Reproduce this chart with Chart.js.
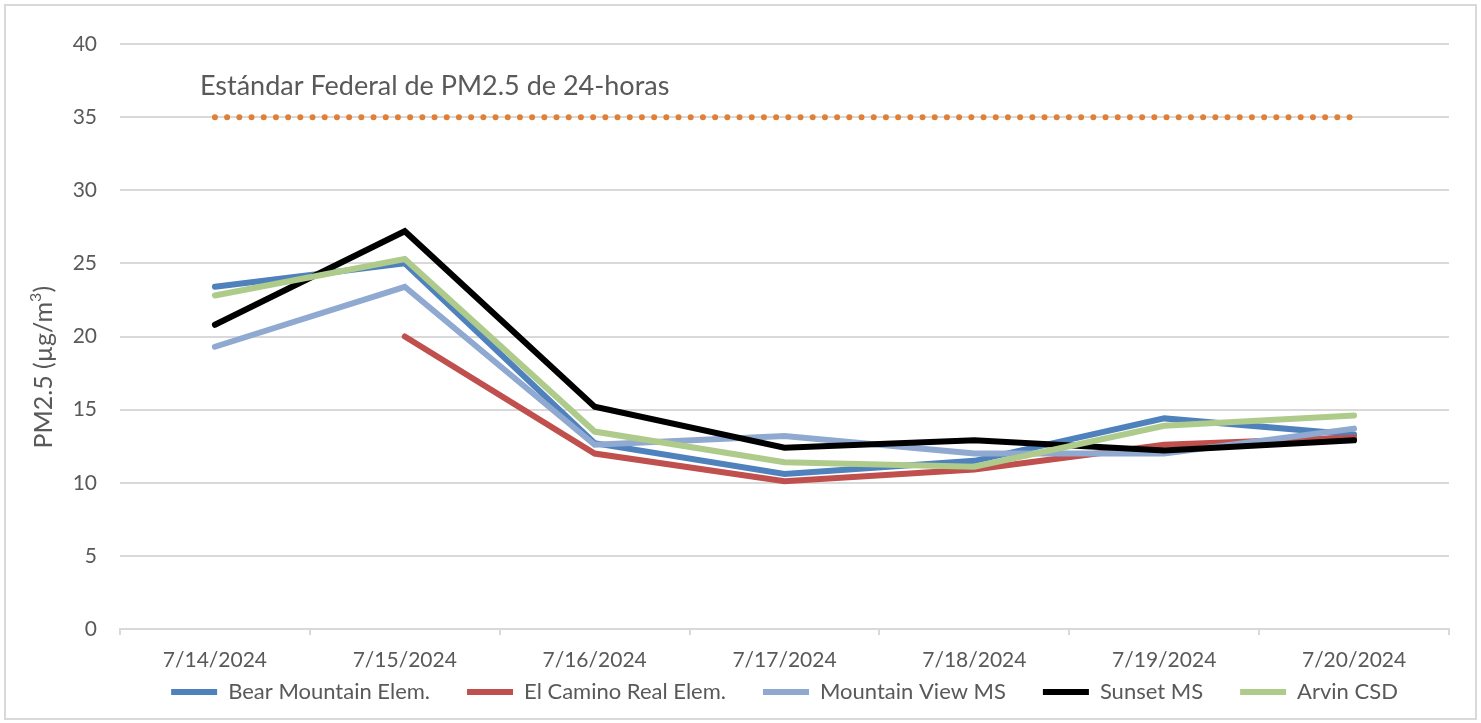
<!DOCTYPE html>
<html>
<head>
<meta charset="UTF-8" />
<script src="https://cdn.jsdelivr.net/npm/chart.js@4"></script>
<style>
  body { margin: 0; background: #fff; }
  #wrap {
    position: absolute;
    left: 4px; top: 4px;
    width: 1473px; height: 716px;
    border: 2px solid #d9d9d9;
    box-sizing: border-box;
  }
</style>
</head>
<body>
<div id="wrap"><canvas id="pm"></canvas></div>
<script>
  // data
  const dates = ["7/14/2024", "7/15/2024", "7/16/2024", "7/17/2024", "7/18/2024", "7/19/2024", "7/20/2024"];
  const bearMountain = [23.4, 25.0, 12.7, 10.6, 11.5, 14.4, 13.3];
  const elCamino = [null, 20.0, 12.0, 10.1, 10.9, 12.6, 13.1];
  const mountainView = [19.3, 23.4, 12.6, 13.2, 12.0, 12.0, 13.7];
  const sunset = [20.8, 27.2, 15.2, 12.4, 12.9, 12.2, 12.9];
  const arvin = [22.8, 25.3, 13.5, 11.4, 11.1, 13.9, 14.6];
  const standard = [35, 35, 35, 35, 35, 35, 35];
  const standardLabel = "Estándar Federal de PM2.5 de 24-horas";
  const yTitleParts = ["PM2.5 (µg/m", "3", ")"];
  const yTicks = [0, 5, 10, 15, 20, 25, 30, 35, 40];

  const textColor = "#595959";
  const gridColor = "#d9d9d9";
  const fontFamily = "Lato, 'Open Sans', sans-serif";

  const series = (label, data, color, order) => ({
    label, data, order,
    borderColor: color,
    backgroundColor: color,
    borderWidth: 6,
    borderCapStyle: "round",
    borderJoinStyle: "miter",
    pointRadius: 0,
    tension: 0,
    spanGaps: false,
  });

  // text label above the dotted standard line
  const standardText = {
    id: "standardText",
    afterDatasetsDraw(chart) {
      const { ctx, scales } = chart;
      ctx.save();
      ctx.font = "27px " + fontFamily;
      ctx.fillStyle = textColor;
      ctx.textBaseline = "middle";
      ctx.textAlign = "left";
      ctx.fillText(standardLabel, scales.x.getPixelForValue(0) - 15, scales.y.getPixelForValue(37.1));
      ctx.restore();
    },
  };

  // rotated y title with a real superscript 3 (sits a little below centre, as in Excel)
  const yTitle = {
    id: "yTitle",
    afterDraw(chart) {
      const { ctx, scales } = chart;
      const big = "25px " + fontFamily, small = "16px " + fontFamily;
      ctx.save();
      ctx.fillStyle = textColor;
      ctx.textBaseline = "middle";
      ctx.textAlign = "left";
      ctx.font = big;
      const w0 = ctx.measureText(yTitleParts[0]).width;
      const w2 = ctx.measureText(yTitleParts[2]).width;
      ctx.font = small;
      const w1 = ctx.measureText(yTitleParts[1]).width;
      ctx.translate(scales.y.left + 38, scales.y.getPixelForValue(17.9));
      ctx.rotate(-Math.PI / 2);
      let x = -(w0 + w1 + w2) / 2;
      ctx.font = big;
      ctx.fillText(yTitleParts[0], x, 0);
      x += w0;
      ctx.font = small;
      ctx.fillText(yTitleParts[1], x, -8);
      x += w1;
      ctx.font = big;
      ctx.fillText(yTitleParts[2], x, 0);
      ctx.restore();
    },
  };

  // legend sits under the plot area centre, tucked up under the date labels
  const legendShift = {
    id: "legendShift",
    afterLayout(chart) {
      const lg = chart.legend, ca = chart.chartArea;
      const dx = (ca.left + ca.right) / 2 - (lg.left + lg.right) / 2;
      lg.left += dx;
      lg.right += dx;
      lg.top -= 33;
      lg.bottom -= 33;
    },
  };

  new Chart(document.getElementById("pm"), {
    type: "line",
    data: {
      labels: dates,
      datasets: [
        series("Bear Mountain Elem.", bearMountain, "#4f81bd", 5),
        series("El Camino Real Elem.", elCamino, "#c0504d", 4),
        series("Mountain View MS", mountainView, "#8fa9d1", 3),
        series("Sunset MS", sunset, "#000000", 2),
        series("Arvin CSD", arvin, "#aecb8c", 1),
        {
          label: "standard",
          data: standard,
          order: 6,
          borderColor: "#e07f36",
          borderWidth: 6,
          borderCapStyle: "round",
          borderDash: [0, 12.2],
          pointRadius: 0,
          tension: 0,
        },
      ],
    },
    options: {
      responsive: true,
      maintainAspectRatio: false,
      animation: false,
      layout: { padding: { left: 0, top: 38, right: 26, bottom: -28 } },
      plugins: {
        tooltip: { enabled: false },
        legend: {
          position: "bottom",
          labels: {
            font: { family: fontFamily, size: 22 },
            color: textColor,
            usePointStyle: true,
            pointStyle: "line",
            pointStyleWidth: 46,
            padding: 37,
            filter: (item) => item.text !== "standard",
            sort: (a, b) => a.datasetIndex - b.datasetIndex,
          },
        },
      },
      scales: {
        x: {
          offset: true,
          afterFit: (s) => { s.height = 48; },
          grid: {
            drawOnChartArea: false,
            drawTicks: true,
            tickLength: 6,
            color: gridColor,
            lineWidth: 2,
            offset: true,
          },
          border: { color: gridColor, width: 2 },
          ticks: {
            font: { family: fontFamily, size: 21 },
            color: textColor,
            padding: 13,
            maxRotation: 0,
            autoSkip: false,
          },
        },
        y: {
          min: 0,
          max: 40,
          afterFit: (s) => { s.width = 114; },
          afterBuildTicks: (s) => { s.ticks = yTicks.map((v) => ({ value: v })); },
          grid: { color: gridColor, lineWidth: 2, drawTicks: false },
          border: { display: false },
          ticks: {
            font: { family: fontFamily, size: 21 },
            color: textColor,
            padding: 23,
          },
          title: { display: false },
        },
      },
    },
    plugins: [standardText, yTitle, legendShift],
  });
</script>
</body>
</html>
